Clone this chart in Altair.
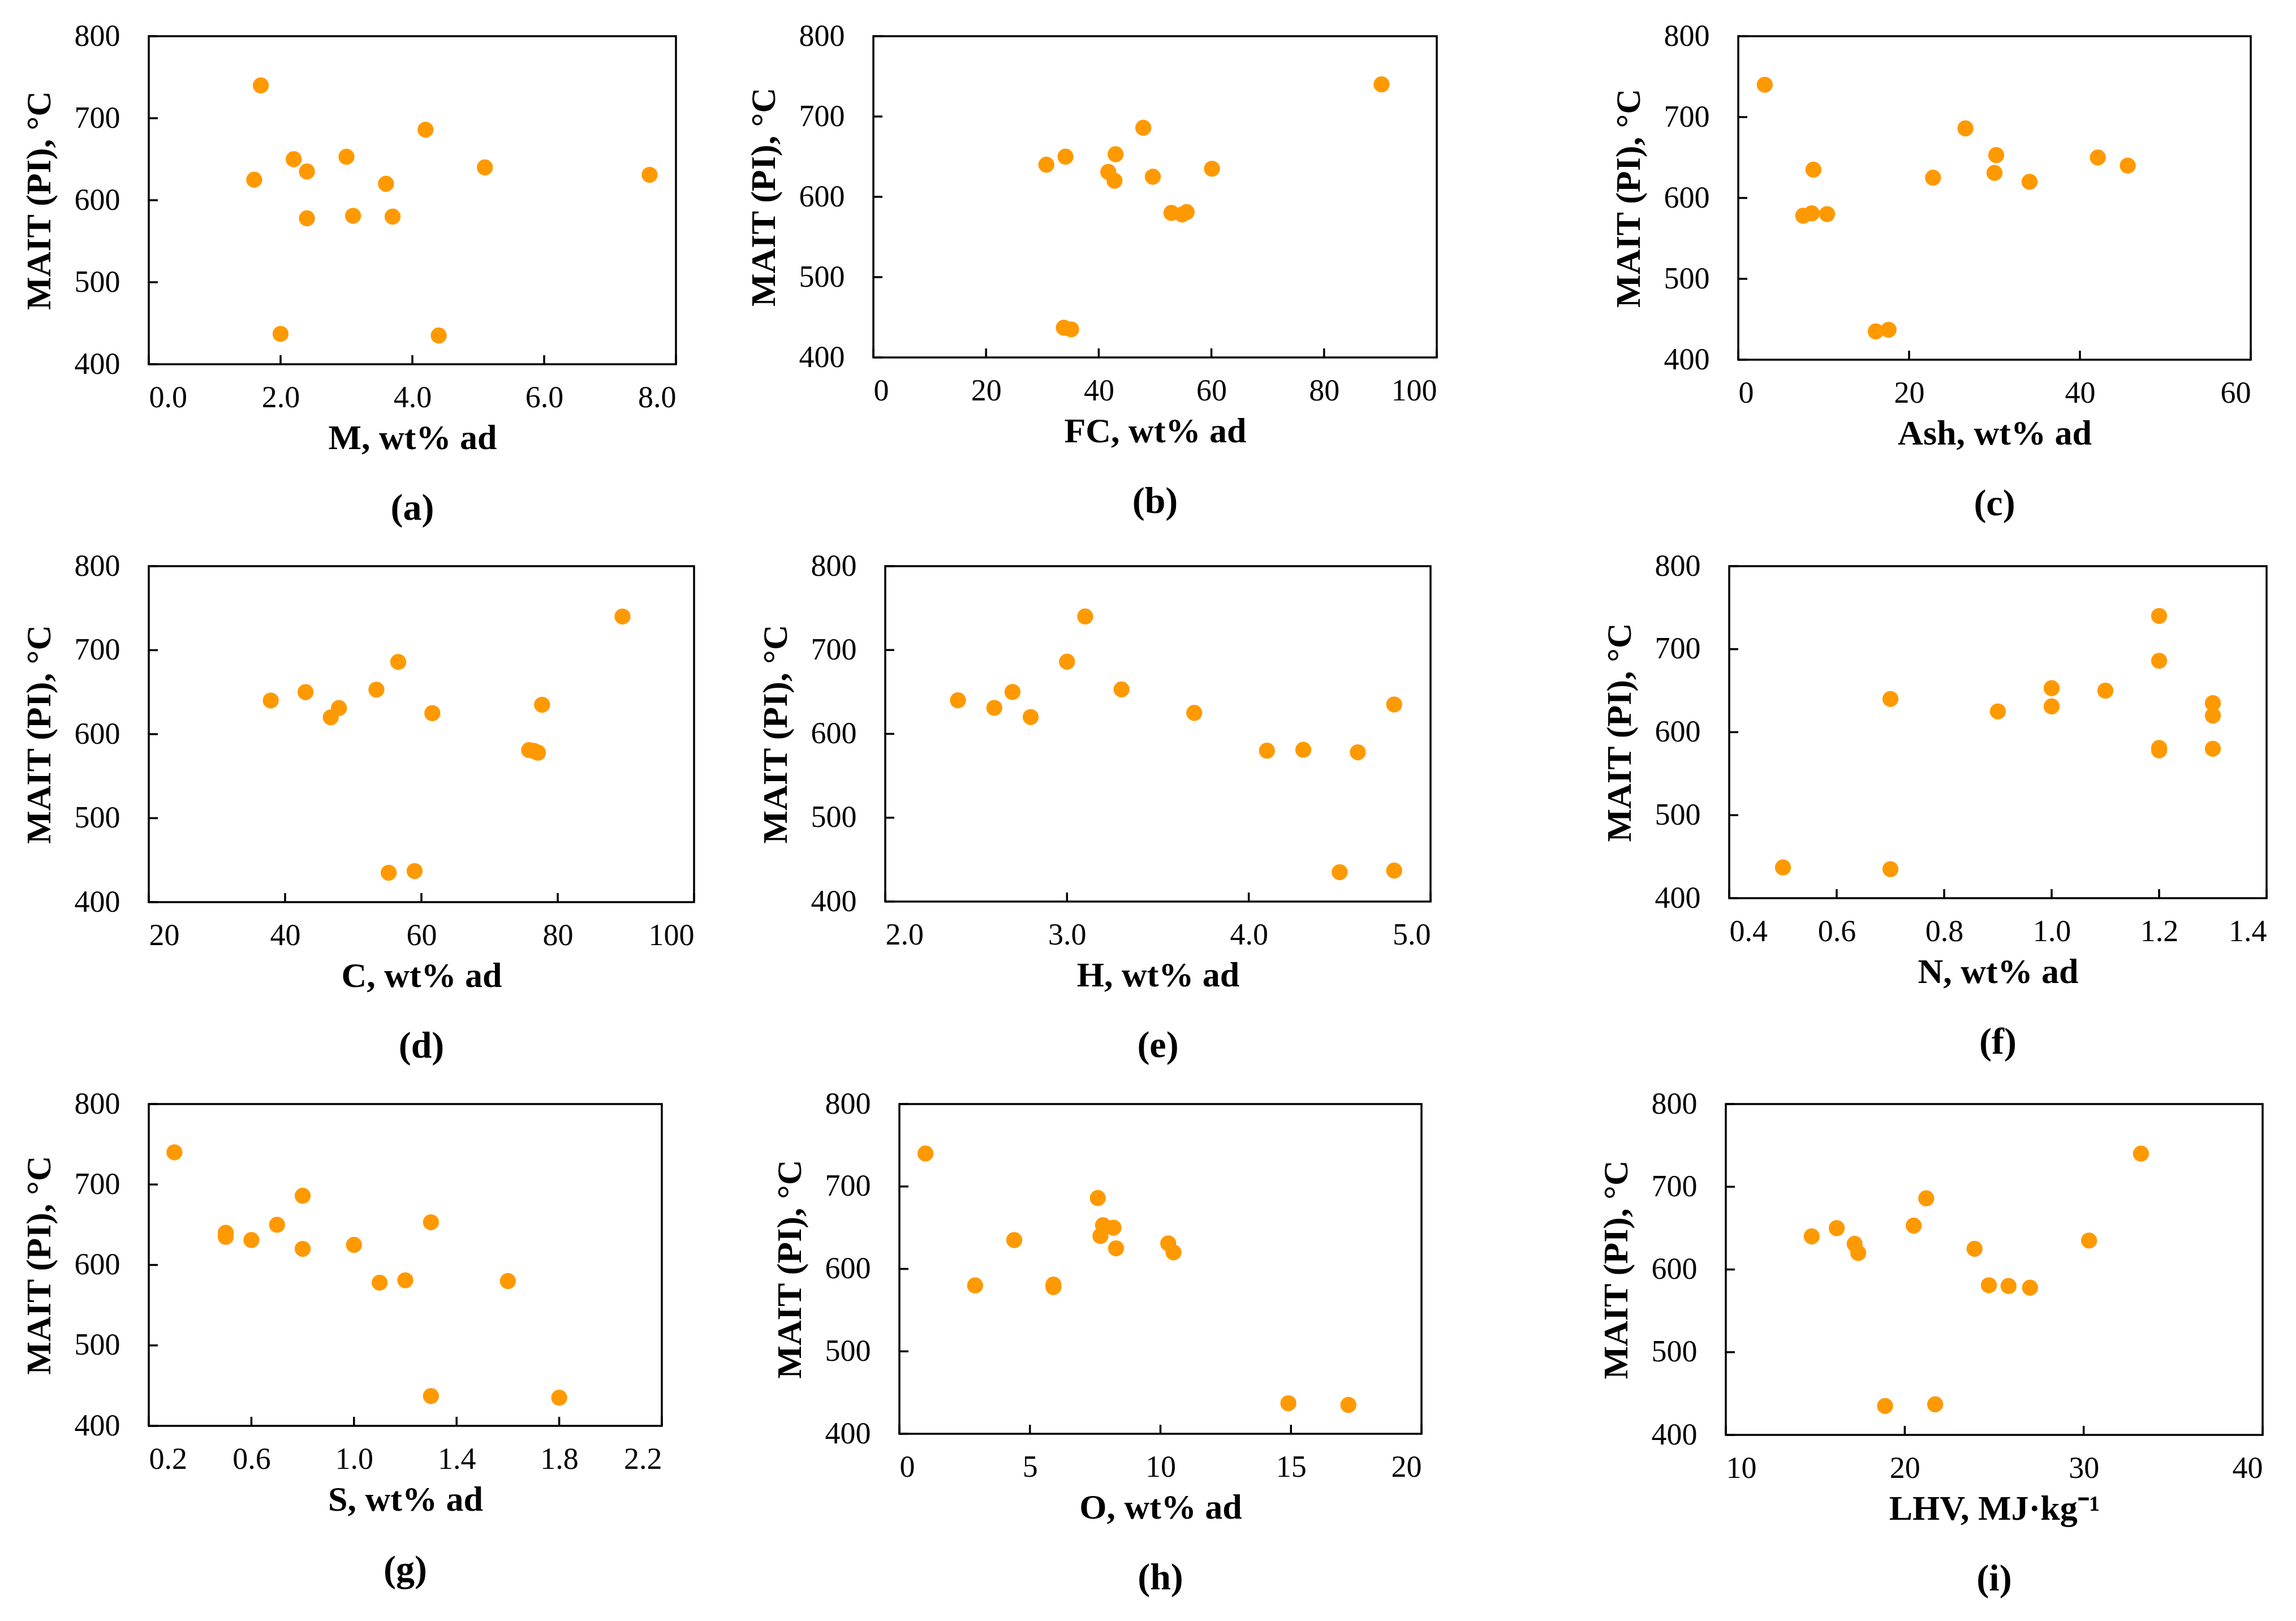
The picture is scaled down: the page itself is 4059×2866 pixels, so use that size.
import pandas as pd
import altair as alt

# MAIT (PI) of the 14 samples, same order in every array below
mait = [740, 686, 653, 650, 640, 635, 631, 625, 620, 581, 580, 578, 437, 435]

m_wt = [1.7, 4.2, 3.0, 2.2, 5.1, 2.4, 7.6, 1.6, 3.6, 3.1, 3.7, 2.4, 2.0, 4.4]
fc_wt = [90.2, 47.9, 43.0, 34.1, 30.7, 60.1, 41.7, 49.6, 42.8, 55.6, 52.9, 54.8, 33.8, 35.1]
ash_wt = [3.1, 26.6, 30.2, 42.1, 45.6, 8.8, 30.0, 22.8, 34.1, 8.6, 10.4, 7.6, 17.6, 16.1]
c_wt = [89.5, 56.6, 53.4, 43.0, 37.9, 77.7, 47.9, 61.6, 46.7, 75.8, 76.5, 77.1, 59.0, 55.2]
h_wt = [3.1, 3.0, 3.3, 2.7, 2.4, 4.8, 2.6, 3.7, 2.8, 4.3, 4.1, 4.6, 4.8, 4.5]
n_wt = [1.2, 1.2, 1.0, 1.1, 0.7, 1.3, 1.0, 0.9, 1.3, 1.2, 1.3, 1.2, 0.5, 0.7]
s_wt = [0.3, 0.8, 1.3, 0.7, 0.5, 0.5, 0.6, 1.0, 0.8, 1.2, 1.6, 1.1, 1.3, 1.8]
o_wt = [1.0, 7.6, 7.8, 8.2, 7.7, 4.4, 10.3, 8.3, 10.5, 5.9, 2.9, 5.9, 14.9, 17.2]
lhv = [33.2, 21.2, 20.5, 16.2, 14.8, 30.3, 17.2, 23.9, 17.4, 24.7, 25.8, 27.0, 21.7, 18.9]

y_ticks = [400, 500, 600, 700, 800]

FONT = "Liberation Serif"
ORANGE = "#FF9900"
TICK = 16  # inward tick length, px


def panel(xs, xtitle, xticks, fmt, tag, w, h):
    df = pd.DataFrame({"x": xs, "y": mait})
    xs_ = alt.Scale(domain=[xticks[0], xticks[-1]], nice=False, zero=False)
    ys_ = alt.Scale(domain=[400, 800], nice=False, zero=False)
    x_axis = alt.Axis(title=xtitle, values=xticks, format=fmt, ticks=False,
                      domain=False, grid=False, labelPadding=32, titlePadding=14)
    y_axis = alt.Axis(title="MAIT (PI), °C", values=y_ticks, ticks=False,
                      domain=False, grid=False, labelPadding=51, titlePadding=30)

    pts = alt.Chart(df).mark_circle(size=800, opacity=1, color=ORANGE).encode(
        x=alt.X("x:Q", scale=xs_, axis=x_axis),
        y=alt.Y("y:Q", scale=ys_, axis=y_axis),
    )

    # inward tick marks on the bottom and left frame edges
    xt = alt.Chart(pd.DataFrame({"x": xticks})).mark_rule(
        color="black", strokeWidth=3.5).encode(
        x=alt.X("x:Q", scale=xs_, axis=x_axis),
        y=alt.value(h), y2=alt.value(h - TICK))
    yt = alt.Chart(pd.DataFrame({"y": y_ticks})).mark_rule(
        color="black", strokeWidth=3.5).encode(
        y=alt.Y("y:Q", scale=ys_, axis=y_axis),
        x=alt.value(0), x2=alt.value(TICK))

    return alt.layer(pts, xt, yt).properties(
        width=w, height=h,
        title=alt.TitleParams(tag, orient="bottom", font=FONT, fontSize=66,
                              fontWeight="bold", offset=62, color="black"),
    )


a = panel(m_wt, "M, wt% ad", [0, 2, 4, 6, 8], ".1f", "(a)", 932, 580)
b = panel(fc_wt, "FC, wt% ad", [0, 20, 40, 60, 80, 100], "d", "(b)", 996, 568)
c = panel(ash_wt, "Ash, wt% ad", [0, 20, 40, 60], "d", "(c)", 906, 572)
d = panel(c_wt, "C, wt% ad", [20, 40, 60, 80, 100], "d", "(d)", 964, 594)
e = panel(h_wt, "H, wt% ad", [2, 3, 4, 5], ".1f", "(e)", 964, 593)
f = panel(n_wt, "N, wt% ad", [0.4, 0.6, 0.8, 1.0, 1.2, 1.4], ".1f", "(f)", 950, 587)
g = panel(s_wt, "S, wt% ad", [0.2, 0.6, 1.0, 1.4, 1.8, 2.2], ".1f", "(g)", 907, 569)
hh = panel(o_wt, "O, wt% ad", [0, 5, 10, 15, 20], "d", "(h)", 923, 583)
i = panel(lhv, "LHV, MJ·kg⁻¹", [10, 20, 30, 40], "d", "(i)", 949, 585)

row1 = alt.hconcat(alt.hconcat(a, b, spacing=118), c, spacing=302)
row2 = alt.hconcat(alt.hconcat(d, e, spacing=107), f, spacing=297)
row3 = alt.hconcat(alt.hconcat(g, hh, spacing=189), i, spacing=307)

chart = alt.vconcat(row1, row2, row3, spacing=38).properties(
    padding={"left": 28, "top": 27, "right": 5, "bottom": 5},
    background="white",
).configure_view(
    stroke="black", strokeWidth=3.5
).configure_axis(
    labelFont=FONT, labelFontSize=54, labelColor="black",
    titleFont=FONT, titleFontSize=62, titleFontWeight="bold", titleColor="black",
)

chart.save("out.html", embed_options={"renderer": "svg", "actions": False})
